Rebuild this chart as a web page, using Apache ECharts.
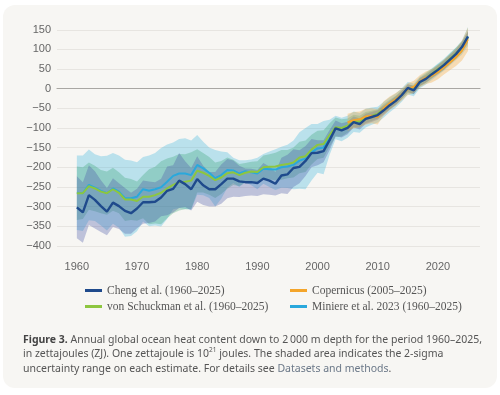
<!DOCTYPE html>
<html><head><meta charset="utf-8">
<script src="https://cdn.jsdelivr.net/npm/echarts@6/dist/echarts.min.js"></script>
<style>
html,body{margin:0;padding:0;background:#fff;}
#card{position:absolute;left:3px;top:5px;width:494px;height:383px;border-radius:12px;background:#f7f6f3;}
#c{position:absolute;left:0;top:0;width:500px;height:395px;}
</style>
</head><body><div id="card"></div><div id="c"></div>
<script>
const years = [1960,1961,1962,1963,1964,1965,1966,1967,1968,1969,1970,1971,1972,1973,1974,1975,1976,1977,1978,1979,1980,1981,1982,1983,1984,1985,1986,1987,1988,1989,1990,1991,1992,1993,1994,1995,1996,1997,1998,1999,2000,2001,2002,2003,2004,2005,2006,2007,2008,2009,2010,2011,2012,2013,2014,2015,2016,2017,2018,2019,2020,2021,2022,2023,2024,2025];
const cheng = [-302,-315,-271,-283,-299,-313,-290,-299,-311,-317,-305,-289,-289,-288,-277,-260,-255,-234,-243,-256,-230,-246,-256,-256,-243,-229,-229,-236,-238,-238,-240,-229,-234,-242,-221,-218,-202,-199,-184,-164,-163,-159,-131,-101,-106,-100,-85,-90,-77,-72,-67,-55,-42,-31,-16,2,-4,17,25,37,48,60,74,88,106,133];
const chengErr = [79,77,76,73,66,60,62,58,58,52,50,55,53,50,48,62,60,70,58,54,58,50,44,44,50,50,46,40,35,34,33,40,36,30,45,50,48,42,38,36,32,28,26,20,18,16,14,14,13,13,12,12,11,11,10,10,10,10,10,10,11,11,12,12,13,14];
const vonSchuckmann = [-266,-266,-248,-254,-262,-266,-256,-265,-282,-282,-286,-275,-275,-271,-265,-254,-245,-238,-237,-234,-209,-214,-222,-233,-226,-215,-213,-220,-214,-211,-212,-200,-199,-198,-194,-192,-188,-175,-172,-155,-143,-141,-118,-98,-100,-94,-82,-84,-73,-69,-64,-51,-40,-29,-15,0,-2,17,27,38,50,61,76,90,106,130];
const vonSchuckmannErr = [68,66,60,58,55,55,55,52,55,52,50,55,70,72,80,76,72,72,70,72,55,50,48,45,42,40,32,28,25,25,27,30,32,35,38,36,38,40,40,38,36,35,30,25,22,18,16,15,14,13,12,12,12,11,11,11,11,11,12,12,12,13,13,14,14,15];
const miniere = [-265,-266,-245,-252,-260,-266,-254,-262,-279,-279,-275,-256,-260,-256,-251,-237,-222,-216,-216,-220,-194,-203,-214,-228,-220,-207,-208,-216,-210,-213,-216,-204,-205,-206,-200,-198,-194,-183,-178,-162,-152,-150,-124,-99,-104,-97,-84,-87,-75,-70,-66,-53,-41,-30,-16,1,-3,16,26,37,49,61,75,89,105,133];
const miniereErr = [95,96,90,85,88,95,90,92,98,96,88,82,90,92,100,95,85,88,90,88,76,68,64,72,60,45,32,34,28,33,40,38,45,52,52,55,62,72,78,72,62,68,45,30,30,28,26,25,24,22,20,20,19,18,17,16,16,15,15,15,15,15,16,16,18,24];
const copYears = [2005,2006,2007,2008,2009,2010,2011,2012,2013,2014,2015,2016,2017,2018,2019,2020,2021,2022,2023,2024,2025];
const copernicus = [-86,-80,-78,-71,-69,-72,-50,-37,-27,-15,-1,5,19,28,33,42,55,67,80,97,126];
const copernicusErr = [22,21,20,20,19,19,18,17,16,15,15,15,15,16,17,18,19,20,22,25,30];
const yTicks = [-400,-350,-300,-250,-200,-150,-100,-50,0,50,100,150];
const xTicks = [1960,1970,1980,1990,2000,2010,2020];

const names = ['Cheng et al. (1960–2025)','Copernicus (2005–2025)','von Schuckman et al. (1960–2025)','Miniere et al. 2023 (1960–2025)'];
const colors = {cheng:'#1f4a8c', cop:'#f4a52a', von:'#8dc63f', min:'#2aa8dc'};
const bandColors = {cheng:'rgba(70,85,165,0.32)', cop:'rgba(245,170,60,0.35)', von:'rgba(70,170,125,0.35)', min:'rgba(60,180,220,0.32)'};

function pairs(xs, ys){ return xs.map((x,i)=>[x, ys[i]]); }
function bandSeries(key, xs, vals, errs){
  const rows = xs.map((x,i)=>[x, vals[i]-errs[i], vals[i]+errs[i]]);
  return {
    type:'custom', silent:true, clip:false, z:1,
    data:rows, encode:{x:0, y:[1,2]},
    renderItem:function(params, api){
      if (params.dataIndex !== 0) return null;
      const up = rows.map(r=>api.coord([r[0], r[2]]));
      const lo = rows.map(r=>api.coord([r[0], r[1]])).reverse();
      return {type:'polygon', shape:{points:up.concat(lo)}, style:{fill:bandColors[key]}};
    }
  };
}
function lineSeries(name, key, xs, vals, w){
  return {type:'line', name:name, data:pairs(xs, vals), symbol:'none', clip:false, z:3,
    lineStyle:{color:colors[key], width:w}, itemStyle:{color:colors[key]}};
}
const series = [
  bandSeries('min', years, miniere, miniereErr),
  bandSeries('von', years, vonSchuckmann, vonSchuckmannErr),
  bandSeries('cheng', years, cheng, chengErr),
  bandSeries('cop', copYears, copernicus, copernicusErr),
  lineSeries(names[3], 'min', years, miniere, 2),
  lineSeries(names[2], 'von', years, vonSchuckmann, 2),
  lineSeries(names[1], 'cop', copYears, copernicus, 2),
  lineSeries(names[0], 'cheng', years, cheng, 2.4)
];

const legendText = {fontFamily:'Liberation Serif', fontSize:11.5, color:'#555', lineHeight:11};
const chart = echarts.init(document.getElementById('c'), null, {renderer:'canvas'});
chart.setOption({
  animation:false,
  backgroundColor:'transparent',
  grid:{left:57, right:20, top:29.8, bottom:149.2, containLabel:false},
  xAxis:{type:'value', min:1956.7, max:2027, offset:7.5,
    axisLine:{show:true, lineStyle:{color:'#a9a7a3', width:1.2}},
    axisTick:{show:false}, splitLine:{show:false},
    axisLabel:{customValues:xTicks, color:'#666', fontFamily:'Liberation Sans', fontSize:11, margin:8,
      formatter:v=>String(v)}},
  yAxis:{type:'value', min:-400, max:150, interval:50,
    axisLine:{show:false}, axisTick:{show:false},
    splitLine:{show:true, lineStyle:{color:'#e7e5e1', width:1}},
    axisLabel:{color:'#666', fontFamily:'Liberation Sans', fontSize:11, margin:6,
      formatter:v=> v<0 ? '\u2212'+Math.abs(v) : String(v)}},
  legend:[
    {data:[names[0], names[2]], orient:'vertical', left:80, top:279.5, itemWidth:17, itemHeight:3, icon:'rect', itemGap:4, textStyle:legendText},
    {data:[names[1], names[3]], orient:'vertical', left:285, top:279.5, itemWidth:17, itemHeight:3, icon:'rect', itemGap:4, textStyle:legendText}
  ],
  graphic:[{
    type:'text', left:23, top:332.5, silent:true,
    style:{
      text:'{b|Figure 3.} Annual global ocean heat content down to 2\u202F000 m depth for the period 1960–2025,\nin zettajoules (ZJ). One zettajoule is 10{sup|21} joules. The shaded area indicates the 2-sigma\nuncertainty range on each estimate. For details see {link|Datasets and methods}.',
      fill:'#555', fontFamily:'Noto Sans', fontSize:10.5, lineHeight:14.5,
      rich:{
        b:{fontWeight:'bold', fill:'#444', fontFamily:'Noto Sans', fontSize:10.5, lineHeight:14.5},
        sup:{fontSize:6.5, fill:'#555', fontFamily:'Noto Sans', verticalAlign:'top', lineHeight:14.5},
        link:{fill:'#6b7888', fontFamily:'Noto Sans', fontSize:10.5, lineHeight:14.5}
      }
    }
  }],
  series:series
});
</script>
</body></html>
